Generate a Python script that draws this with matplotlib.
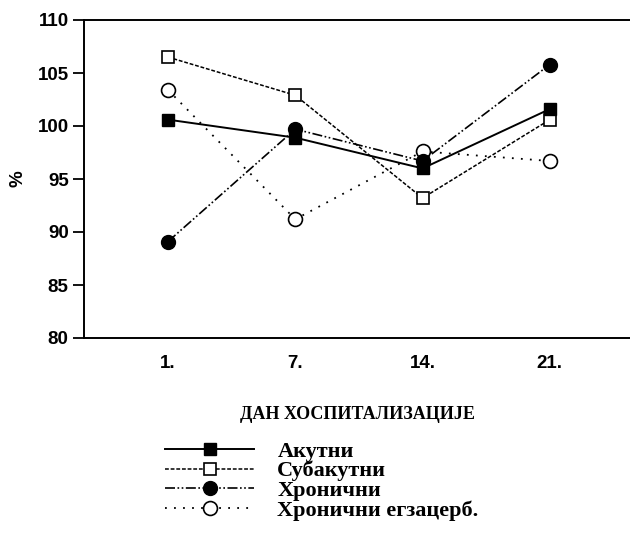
import matplotlib
matplotlib.use('Agg')
import matplotlib.pyplot as plt

days = ['1.', '7.', '14.', '21.']
akutni = [100.6, 98.9, 96.0, 101.6]
subakutni = [106.5, 102.9, 93.2, 100.6]
hronicni = [89.1, 99.7, 96.7, 105.8]
hronicni_egz = [103.4, 91.2, 97.6, 96.7]
labels = ['Акутни', 'Субакутни', 'Хронични', 'Хронични егзацерб.']
y_ticks = [80, 85, 90, 95, 100, 105, 110]

fig = plt.figure(figsize=(6.3, 5.35), dpi=100)
ax = fig.add_axes([84 / 630, 1 - 338 / 535, 1 - 84 / 630, (338 - 20) / 535])

x = range(len(days))
ax.plot(x, akutni, color='black', lw=1.4, ls='-', marker='s', ms=9,
        mfc='black', mec='black', label=labels[0], zorder=4)
ax.plot(x, subakutni, color='black', lw=1.1, ls=(0, (2.5, 1.2)), marker='s', ms=9,
        mfc='white', mec='black', mew=1.2, label=labels[1], zorder=3)
ax.plot(x, hronicni, color='black', lw=1.2, ls=(0, (6, 1.5, 1, 1.5, 1, 1.5)), marker='o', ms=10,
        mfc='black', mec='black', label=labels[2], zorder=5)
ax.plot(x, hronicni_egz, color='black', lw=1.3, ls=(0, (1, 4)), marker='o', ms=10,
        mfc='white', mec='black', mew=1.2, label=labels[3], zorder=3)

ax.set_xlim(-0.66, 3.63)
ax.set_ylim(80, 110)
ax.set_yticks(y_ticks)
ax.set_xticks(list(x))
ax.set_xticklabels(days)
for lab in ax.get_xticklabels() + ax.get_yticklabels():
    lab.set_fontfamily('Liberation Sans')
    lab.set_fontweight('bold')
    lab.set_fontsize(13.5)
ax.tick_params(axis='y', direction='out', length=8, width=1.3, pad=3)
ax.tick_params(axis='x', length=0, pad=12)
ax.spines['right'].set_visible(False)
for s in ['left', 'bottom', 'top']:
    ax.spines[s].set_linewidth(1.4)

ax.set_ylabel('%', fontfamily='Liberation Sans', fontweight='bold', fontsize=13.5, labelpad=8)
ax.set_xlabel('ДАН ХОСПИТАЛИЗАЦИЈЕ', fontfamily='Liberation Serif', fontweight='bold',
              fontsize=13, labelpad=25)

fig.legend(loc='upper left', bbox_to_anchor=(154 / 630, 1 - 430 / 535), frameon=False,
           prop={'family': 'Liberation Serif', 'weight': 'bold', 'size': 16},
           handlelength=4.0, handletextpad=1.05, labelspacing=-0.04, borderpad=0)

fig.savefig('out.png', dpi=100)
